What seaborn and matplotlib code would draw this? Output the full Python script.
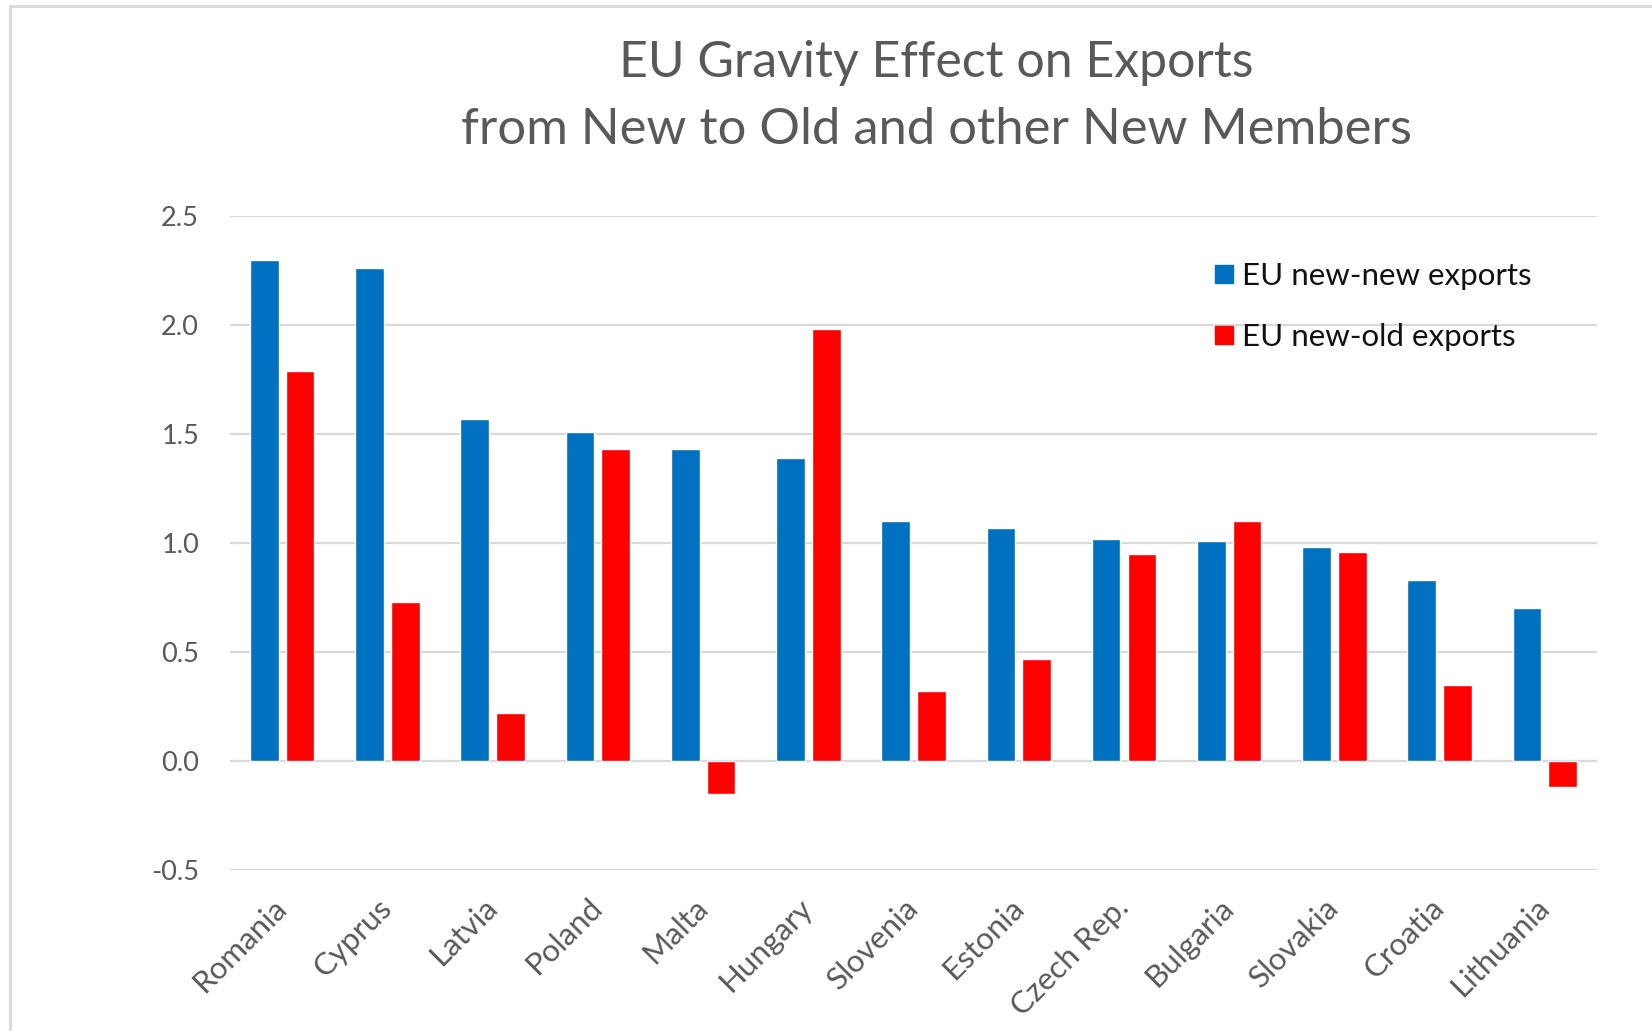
import matplotlib
matplotlib.use("Agg")
import matplotlib.pyplot as plt
import matplotlib.lines as mlines
import seaborn as sns
import pandas as pd

# Country order as shown on the x-axis
countries = ["Romania", "Cyprus", "Latvia", "Poland", "Malta", "Hungary",
             "Slovenia", "Estonia", "Czech Rep.", "Bulgaria", "Slovakia",
             "Croatia", "Lithuania"]

# Gravity-model EU membership effects
new_new = [2.30, 2.26, 1.57, 1.51, 1.43, 1.39, 1.10, 1.07, 1.02, 1.01, 0.98, 0.83, 0.70]
new_old = [1.79, 0.73, 0.22, 1.43, -0.15, 1.98, 0.32, 0.47, 0.95, 1.10, 0.96, 0.35, -0.12]

series_names = ["EU new-new exports", "EU new-old exports"]
series_colors = ["#0070C0", "#FF0000"]

y_ticks = [-0.5, 0.0, 0.5, 1.0, 1.5, 2.0, 2.5]

df = pd.DataFrame({
    "country": countries * 2,
    "effect": new_new + new_old,
    "series": [series_names[0]] * len(countries) + [series_names[1]] * len(countries),
})

sns.set_theme(style="white")
plt.rcParams["font.family"] = ["Lato", "DejaVu Sans"]

gray = "#595959"

fig = plt.figure(figsize=(16.52, 10.31), dpi=100)
ax = fig.add_axes([0.139, 0.1562, 0.828, 0.6343])

sns.barplot(data=df, x="country", y="effect", hue="series", order=countries,
            hue_order=series_names, palette=series_colors, width=0.68, gap=0.2,
            saturation=1, errorbar=None, ax=ax, zorder=3)

ax.set_ylim(-0.5, 2.5)
ax.set_yticks(y_ticks)
ax.set_yticklabels([f"{v:.1f}" for v in y_ticks])
ax.set_xlim(-0.5, len(countries) - 0.5)
ax.grid(axis="y", color="#d9d9d9", linewidth=1.6, zorder=0)
ax.set_axisbelow(True)
for s in ax.spines.values():
    s.set_visible(False)
ax.set_xlabel("")
ax.set_ylabel("")

ax.tick_params(axis="y", length=0, pad=22, labelsize=19.5, labelcolor=gray)
ax.tick_params(axis="x", length=0, pad=24, labelsize=22.5, labelcolor=gray)
for lbl in ax.get_xticklabels():
    lbl.set_rotation(45)
    lbl.set_ha("right")
    lbl.set_va("center")
    lbl.set_rotation_mode("anchor")

# Legend with square swatches
handles = [mlines.Line2D([], [], marker="s", linestyle="none", markersize=13.5,
                         markerfacecolor=c, markeredgecolor=c) for c in series_colors]
leg = ax.legend(handles, series_names, loc="upper left",
                bbox_to_anchor=(0.697, 0.972), frameon=False, fontsize=22.5,
                handlelength=0.8, handletextpad=0.2, labelspacing=1.05)
for t in leg.get_texts():
    t.set_color("#111111")

# Two-line title
fig.text(0.5666, 0.925, "EU Gravity Effect on Exports", ha="center", va="baseline",
         fontsize=36, color=gray)
fig.text(0.5666, 0.860, "from New to Old and other New Members", ha="center",
         va="baseline", fontsize=36.5, color=gray)

# Chart-area frame (top and left edges fall inside the canvas)
frame = plt.Rectangle((10 / 1652, -0.1), 1.2, 1 - 6 / 1031 + 0.1,
                      transform=fig.transFigure, fill=False,
                      edgecolor="#d9d9d9", linewidth=2)
fig.add_artist(frame)

fig.savefig("out.png", dpi=100)
